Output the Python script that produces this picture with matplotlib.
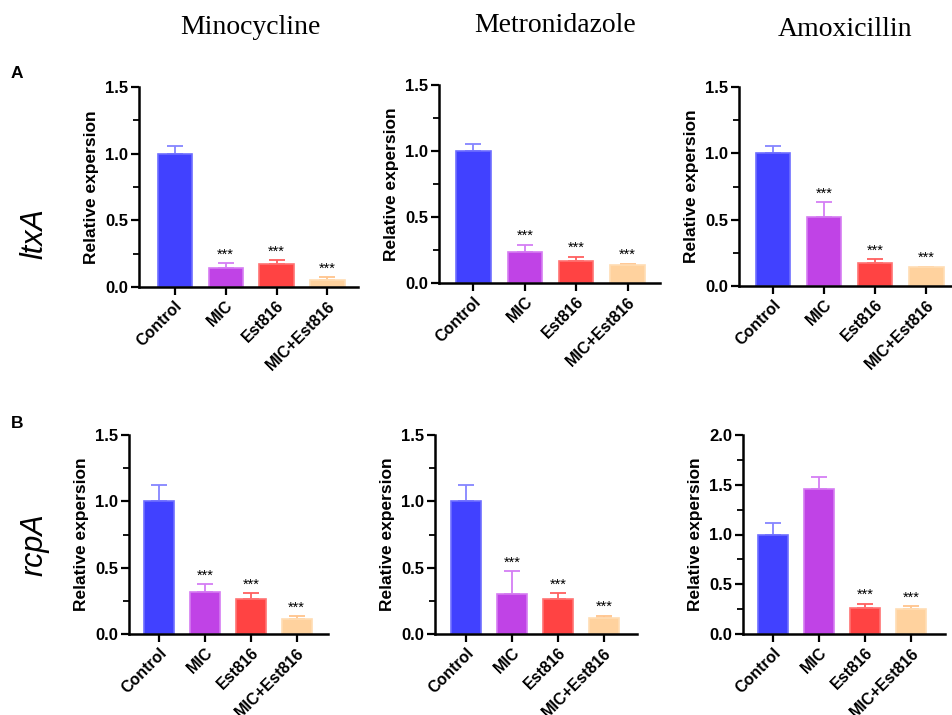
import matplotlib
matplotlib.use('Agg')
import matplotlib.pyplot as plt
from matplotlib.ticker import MultipleLocator

plt.rcParams['font.family'] = ['Liberation Sans', 'DejaVu Sans']

groups = ['Control', 'MIC', 'Est816', 'MIC+Est816']
drugs = ['Minocycline', 'Metronidazole', 'Amoxicillin']
genes = ['ltxA', 'rcpA']

# means and upper error (SD) per panel
ltxA_mean = [[1.0, 0.14, 0.175, 0.05],
             [1.0, 0.233, 0.17, 0.133],
             [1.0, 0.52, 0.173, 0.14]]
ltxA_err = [[0.055, 0.04, 0.025, 0.025],
            [0.05, 0.057, 0.03, 0.012],
            [0.055, 0.11, 0.027, 0.005]]
ltxA_sig = [[False, True, True, True],
            [False, True, True, True],
            [False, True, True, True]]

rcpA_mean = [[1.0, 0.315, 0.266, 0.113],
             [1.0, 0.304, 0.266, 0.123],
             [1.0, 1.453, 0.262, 0.248]]
rcpA_err = [[0.12, 0.062, 0.041, 0.023],
            [0.12, 0.168, 0.041, 0.015],
            [0.117, 0.121, 0.043, 0.031]]
rcpA_sig = [[False, True, True, True],
            [False, True, True, True],
            [False, False, True, True]]

ymax_top = [1.5, 1.5, 1.5]
ymax_bot = [1.5, 1.5, 2.0]

face = ['#4141FF', '#C043E6', '#FF4343', '#FFD29E']
edge = ['#6E6EFF', '#D57CF2', '#FF7373', '#FFDDB4']
errc = ['#8585FF', '#D47EF4', '#FF5F5F', '#FFC48C']

W, H = 953, 715
fig = plt.figure(figsize=(W / 100, H / 100), dpi=100)


def px_axes(x0, x1, ytop, ybot):
    return fig.add_axes([x0 / W, (H - ybot) / H, (x1 - x0) / W, (ybot - ytop) / H])


def draw(ax, mean, err, sig, ymax, xlim, width):
    x = list(range(len(groups)))
    ax.bar(x, mean, width=width, color=face, edgecolor=edge, linewidth=1.2, zorder=2)
    for i in x:
        ax.errorbar(i, mean[i], yerr=[[0], [err[i]]], fmt='none', ecolor=errc[i],
                    elinewidth=1.3, capsize=6, capthick=1.3, zorder=1)
        if sig[i]:
            ax.text(i, mean[i] + err[i] + ymax * 0.008, '***', ha='center', va='bottom',
                    fontsize=10.5)
    ax.set_xlim(*xlim)
    ax.set_ylim(0, ymax)
    ax.yaxis.set_major_locator(MultipleLocator(0.5))
    ax.yaxis.set_minor_locator(MultipleLocator(0.25))
    ax.yaxis.set_major_formatter(matplotlib.ticker.FormatStrFormatter('%.1f'))
    ax.set_xticks(x)
    ax.set_xticklabels(groups, rotation=45, ha='right', rotation_mode='anchor',
                       fontsize=11.5, fontweight='bold')
    for lab in ax.get_yticklabels():
        lab.set_fontweight('bold')
        lab.set_fontsize(12)
    ax.tick_params(axis='both', which='major', length=6, width=1.6, direction='out', pad=2)
    ax.tick_params(axis='y', which='minor', length=4, width=1.3, direction='out')
    ax.spines['top'].set_visible(False)
    ax.spines['right'].set_visible(False)
    ax.spines['left'].set_linewidth(1.8)
    ax.spines['bottom'].set_linewidth(1.8)
    ax.set_ylabel('Relative expersion', fontsize=12.5, fontweight='bold', labelpad=4)


top_pos = [(139, 358, 87, 287), (439, 660, 85, 283), (739, 952, 87, 286)]
top_xlim = [(-0.7, 3.6), (-0.67, 3.63), (-0.67, 3.5)]
for k in range(3):
    ax = px_axes(*top_pos[k])
    draw(ax, ltxA_mean[k], ltxA_err[k], ltxA_sig[k], ymax_top[k], top_xlim[k], 0.67)

bot_pos = [(129, 328, 435, 634), (435, 637, 435, 634), (743, 945, 435, 634)]
bot_xlim = [(-0.65, 3.68), (-0.67, 3.72), (-0.65, 3.74)]
for k in range(3):
    ax = px_axes(*bot_pos[k])
    draw(ax, rcpA_mean[k], rcpA_err[k], rcpA_sig[k], ymax_bot[k], bot_xlim[k], 0.65)

title_xy = [(250, 27), (555, 26), (845, 30)]
for k in range(3):
    fig.text(title_xy[k][0] / W, 1 - title_xy[k][1] / H, drugs[k], ha='center', va='center',
             fontsize=20, family='Liberation Serif')

fig.text(17 / W, 1 - 73 / H, 'A', ha='center', va='center', fontsize=12.5, fontweight='bold')
fig.text(17 / W, 1 - 423 / H, 'B', ha='center', va='center', fontsize=12.5, fontweight='bold')
fig.text(35 / W, 1 - 234 / H, genes[0], ha='center', va='center', fontsize=22,
         style='italic', rotation=90)
fig.text(35 / W, 1 - 545 / H, genes[1], ha='center', va='center', fontsize=22,
         style='italic', rotation=90)

fig.savefig('out.png', dpi=100)
